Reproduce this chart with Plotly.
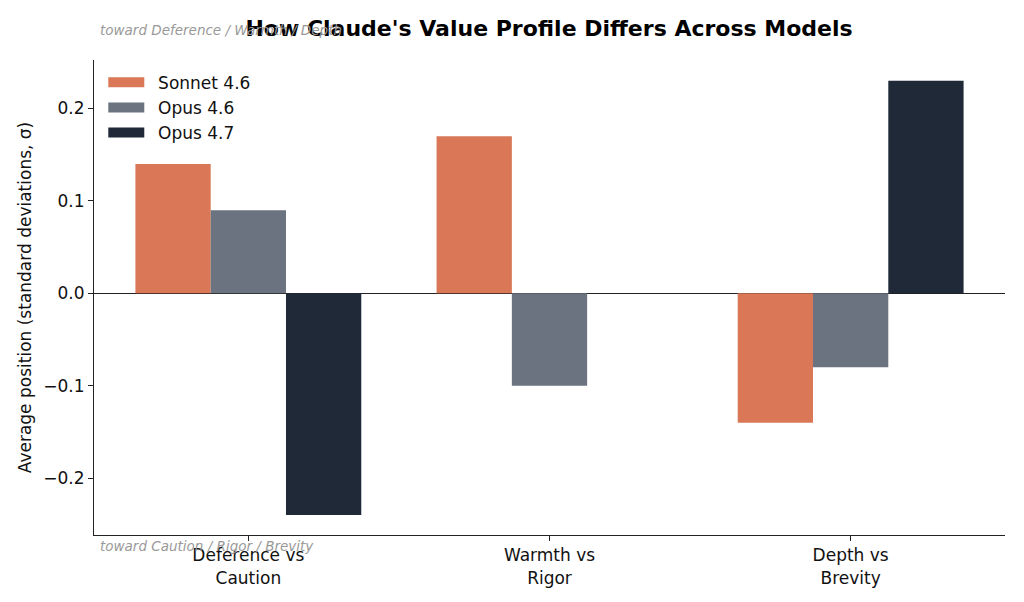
import plotly.graph_objects as go

categories = ["Deference vs<br>Caution", "Warmth vs<br>Rigor", "Depth vs<br>Brevity"]
models = ["Sonnet 4.6", "Opus 4.6", "Opus 4.7"]
sonnet_46 = [0.14, 0.17, -0.14]
opus_46 = [0.09, -0.10, -0.08]
opus_47 = [-0.24, 0.0, 0.23]
colors = ["#D97757", "#6B7280", "#1F2937"]

fig = go.Figure()
for name, vals, col in zip(models, [sonnet_46, opus_46, opus_47], colors):
    fig.add_trace(go.Bar(x=categories, y=vals, name=name, showlegend=False,
                         marker=dict(color=col, line=dict(width=0))))
# legend entries drawn as wide patches
for name, col in zip(models, colors):
    fig.add_trace(go.Scatter(x=[None], y=[None], mode="lines", name="\u00a0\u2009" + name,
                             line=dict(color=col, width=12)))

fig.update_layout(
    width=1024, height=602,
    margin=dict(l=86, r=27, t=52, b=75),
    paper_bgcolor="white", plot_bgcolor="white",
    font=dict(family="DejaVu Sans", size=17, color="#111"),
    barmode="group", bargap=0.25, bargroupgap=0,
    title=dict(text="<b>How Claude's Value Profile Differs Across Models</b>",
               x=541 / 1024, xanchor="center", y=1 - 20 / 602, yanchor="middle",
               font=dict(size=22, color="black")),
    legend=dict(x=0.0102, y=0.99, xanchor="left", yanchor="top", bgcolor="rgba(0,0,0,0)",
                font=dict(size=17), itemwidth=36, tracegroupgap=0),
    showlegend=True,
)
fig.update_xaxes(range=[-0.5125, 2.5125], showline=True, linecolor="#222", linewidth=1,
                 ticks="outside", ticklen=5, tickcolor="#222", showgrid=False, mirror=False,
                 tickfont=dict(size=17))
fig.update_yaxes(range=[-0.2616, 0.2525], showline=True, linecolor="#222", linewidth=1,
                 ticks="outside", ticklen=5, tickcolor="#222", showgrid=False,
                 tickvals=[-0.2, -0.1, 0.0, 0.1, 0.2], ticktext=["\u22120.2", "\u22120.1", "0.0", "0.1", "0.2"],
                 zeroline=True, zerolinecolor="#222", zerolinewidth=1,
                 title=dict(text="Average position (standard deviations, \u03c3)", font=dict(size=17), standoff=7),
                 tickfont=dict(size=17))
fig.add_annotation(text="<i>toward Deference / Warmth / Depth</i>", xref="paper", yref="paper",
                   x=0.004, y=1 + 30 / 475, xanchor="left", yanchor="middle", showarrow=False,
                   font=dict(size=13.5, color="#999"))
fig.add_annotation(text="<i>toward Caution / Rigor / Brevity</i>", xref="paper", yref="paper",
                   x=0.004, y=-11 / 475, xanchor="left", yanchor="middle", showarrow=False,
                   font=dict(size=13.5, color="#999"))
fig.write_html("out.html")
